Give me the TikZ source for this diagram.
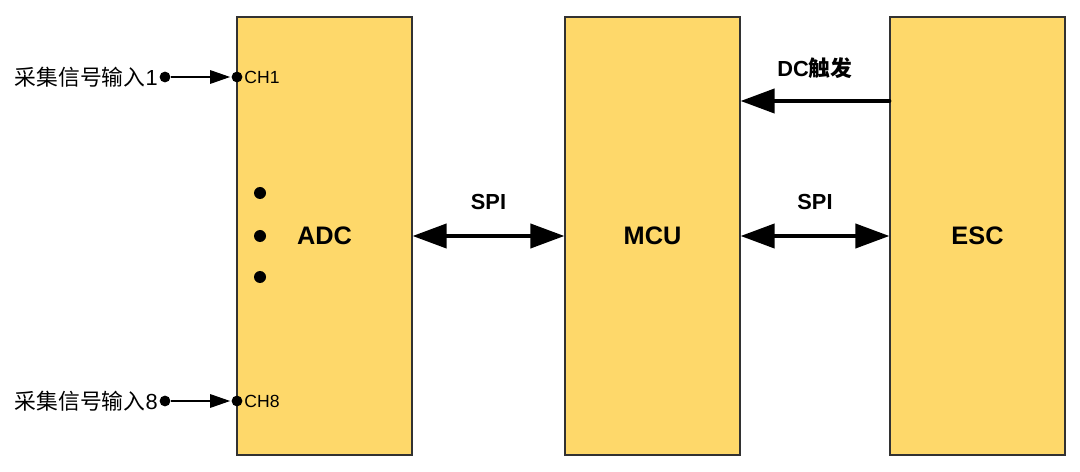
\documentclass[tikz,border=0pt]{standalone}
\usepackage{fontspec}
\setmainfont{Liberation Sans}
\newfontfamily\cjk{Noto Sans CJK SC}
\usepackage{xcolor}
\definecolor{boxyellow}{RGB}{254,216,106}
\definecolor{boxedge}{RGB}{50,50,50}
\usetikzlibrary{arrows.meta,positioning}
\tikzset{
	block/.style = {
			draw=boxedge, fill=boxyellow, line width=0.8pt,
			minimum width=4.375cm, minimum height=10.95cm,
			inner sep=0pt, font=\fontsize{18}{20}\selectfont\bfseries
		},
	vertex/.style = {
			circle, fill=black, inner sep=0pt, minimum size=0.27cm
		},
	bigvertex/.style = {
			circle, fill=black, inner sep=0pt, minimum size=0.3cm
		},
	busarrow/.style = {
			line width=2.8pt, {Triangle[length=0.85cm,width=0.6cm]}-{Triangle[length=0.85cm,width=0.6cm]}
		},
	trigarrow/.style = {
			line width=2.8pt, line cap=round, -{Triangle[length=0.85cm,width=0.6cm]}
		},
	inarrow/.style = {
			line width=0.8pt, -{Triangle[length=0.5cm,width=0.34cm]}, shorten >=0.03cm
		},
	lbl/.style = {font=\fontsize{15.5}{17}\selectfont\bfseries},
	inlbl/.style = {font=\fontsize{15.5}{17}\selectfont, anchor=east, inner sep=1pt},
	chlbl/.style = {font=\fontsize{12.5}{14}\selectfont, anchor=west, inner sep=1pt}
}
\begin{document}
\begin{tikzpicture}[x=0.025cm,y=-0.025cm]
			      \useasboundingbox (0,0) rectangle (1080,472);
			      \node[block] (adc) at (324.5,236) {ADC};
			      \node[block] (mcu) at (652.5,236) {MCU};
			      \node[block] (esc) at (977.5,236) {ESC};
			      % input channels
			      \node[vertex] (in1) at (165,77) {};
			      \node[vertex] (ch1) at (237,77) {};
			      \node[vertex] (in8) at (165,401) {};
			      \node[vertex] (ch8) at (237,401) {};
			      \node[inlbl] at (in1.west) {{\cjk 采集信号输入}1};
			      \node[inlbl] at (in8.west) {{\cjk 采集信号输入}8};
			      \node[chlbl] at (ch1.east) {CH1};
			      \node[chlbl] at (ch8.east) {CH8};
			      \draw[inarrow] (in1) -- (ch1);
			      \draw[inarrow] (in8) -- (ch8);
			      \node[bigvertex] (d1) at (260,193) {};
			      \node[bigvertex] (d2) at (260,236) {};
			      \node[bigvertex] (d3) at (260,277) {};
			      % buses
			      \draw[busarrow] (adc) -- (mcu) node[lbl, midway, above=0.5cm] {SPI};
			      \draw[busarrow] (mcu) -- (esc) node[lbl, midway, above=0.5cm] {SPI};
			      \coordinate (dc) at (815,101);
			      \draw[trigarrow] (esc.west |- dc) -- (mcu.east |- dc) node[lbl, midway, above=0.4cm] {DC{\cjk 触发}};
		      \end{tikzpicture}
\end{document}
